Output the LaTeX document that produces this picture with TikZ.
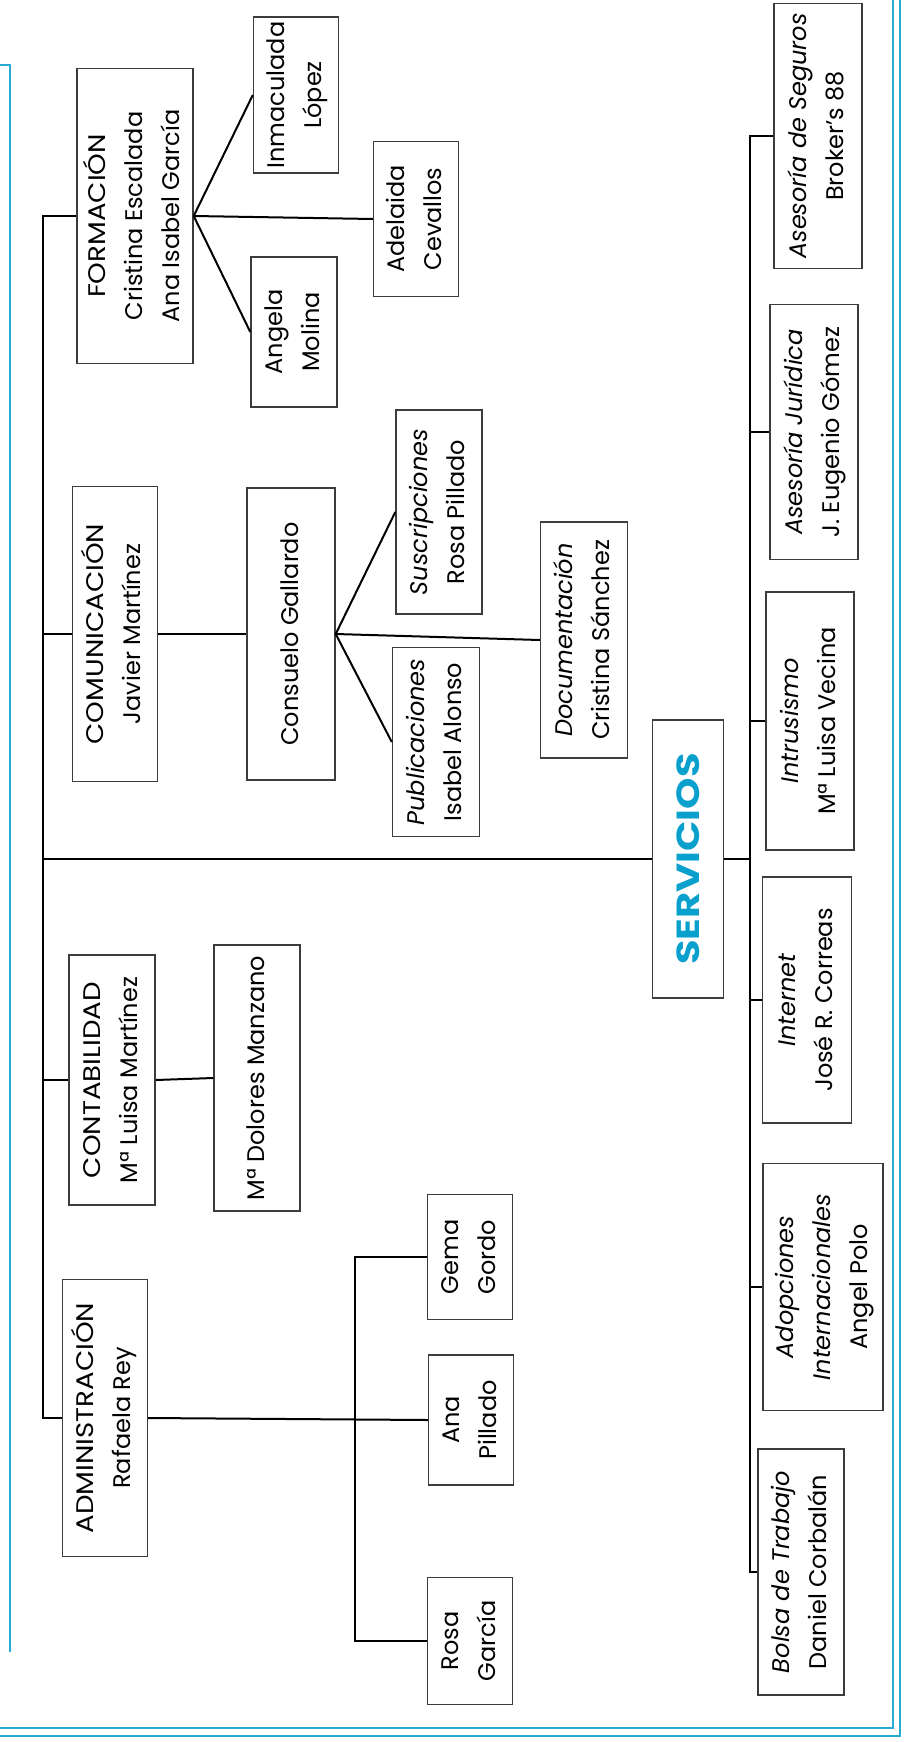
\documentclass[tikz,border=0pt]{standalone}
\usepackage{fontspec}
\setmainfont{Poppins}
\usepackage{graphicx}
\usetikzlibrary{calc}
\definecolor{frameblue}{RGB}{40, 170, 210}
\definecolor{titleblue}{RGB}{10, 160, 205}
\definecolor{boxline}{RGB}{60, 60, 60}
\newcommand{\vtext}[1]{\rotatebox{90}{\begin{tabular}{@{}c@{}}#1\end{tabular}}}
\newcommand{\broadcaps}[1]{\scalebox{1.15}[1]{#1}}
\newcommand{\chartfont}{\fontsize{24}{37}\selectfont}

\begin{document}
\begin{tikzpicture}[x=1pt, y=-1pt,
    box/.style={draw=boxline, line width=1.4pt, inner sep=0pt, font=\chartfont},
    dims/.style 2 args={minimum width=#1pt, minimum height=#2pt},
    link/.style={black, line width=2pt},
    frame/.style={frameblue, line width=2pt}
  ]
  \useasboundingbox (0,0) rectangle (905,1742);

  % page frame
  \draw[frame] (0,65) -- (10,65) -- (10,1652);
  \draw[frame] (0,1728) -- (893,1728) -- (893,0);
  \draw[frame] (0,1736) -- (900,1736) -- (900,0);

  % departments
  \node[box, dims={116}{295}] (formacion) at (135,216) {\vtext{\broadcaps{FORMACIÓN}\\Cristina Escalada\\Ana Isabel García}};
  \node[box, dims={85}{295}] (comunicacion) at (115,634) {\vtext{\broadcaps{COMUNICACIÓN}\\Javier Martínez}};
  \node[box, dims={86}{250}] (contabilidad) at (112,1080) {\vtext{\broadcaps{CONTABILIDAD}\\Mª Luisa Martínez}};
  \node[box, dims={85}{277}] (administracion) at (105,1418) {\vtext{\broadcaps{ADMINISTRACIÓN}\\Rafaela Rey}};

  % formacion
  \node[box, dims={85}{156}] (inmaculada) at (296,95) {\vtext{Inmaculada\\López}};
  \node[box, dims={85}{155}] (adelaida) at (416,219) {\vtext{Adelaida\\Cevallos}};
  \node[box, dims={86}{150}] (angela) at (294,332) {\vtext{Angela\\Molina}};

  % comunicacion
  \node[box, dims={88}{292}] (consuelo) at (291,634) {\vtext{Consuelo Gallardo}};
  \node[box, dims={86}{204}] (suscripciones) at (439,512) {\vtext{\itshape Suscripciones\\Rosa Pillado}};
  \node[box, dims={87}{189}] (publicaciones) at (436,742) {\vtext{\itshape Publicaciones\\Isabel Alonso}};
  \node[box, dims={87}{236}] (documentacion) at (584,640) {\vtext{\itshape Documentación\\Cristina Sánchez}};

  % contabilidad
  \node[box, dims={86}{266}] (dolores) at (257,1078) {\vtext{Mª Dolores Manzano}};

  % administracion
  \node[box, dims={85}{125}] (gema) at (470,1257) {\vtext{Gema\\Gordo}};
  \node[box, dims={85}{130}] (ana) at (471,1420) {\vtext{Ana\\Pillado}};
  \node[box, dims={85}{127}] (rosa) at (470,1641) {\vtext{Rosa\\García}};

  % servicios
  \node[box, dims={71}{278}, font=\fontsize{32}{36}\selectfont\bfseries, text=titleblue] (servicios) at (688,859) {\rotatebox{90}{\scalebox{1.25}[1]{SERVICIOS}}};
  \node[box, dims={88}{265}] (seguros) at (818,136) {\vtext{\itshape Asesoría de Seguros\\Broker’s 88}};
  \node[box, dims={88}{255}] (juridica) at (814,432) {\vtext{\itshape Asesoría Jurídica\\J. Eugenio Gómez}};
  \node[box, dims={88}{258}] (intrusismo) at (810,721) {\vtext{\itshape Intrusismo\\Mª Luisa Vecina}};
  \node[box, dims={89}{246}] (internet) at (807,1000) {\vtext{\itshape Internet\\José R. Correas}};
  \node[box, dims={120}{247}] (adopciones) at (823,1287) {\vtext{\itshape Adopciones\\\itshape Internacionales\\Angel Polo}};
  \node[box, dims={86}{246}] (bolsa) at (801,1572) {\vtext{\itshape Bolsa de Trabajo\\Daniel Corbalán}};

  % connectors
  \coordinate (trunk) at (43,0);
  \coordinate (spine) at (750,0);
  \coordinate (adminspine) at (355,0);

  \draw[link] (formacion.west) -- (formacion.west -| trunk) |- (administracion.west);
  \draw[link] (comunicacion.west) -- (comunicacion.west -| trunk);
  \draw[link] (contabilidad.west) -- (contabilidad.west -| trunk);
  \draw[link] (servicios.west) -- (servicios.west -| trunk);

  \foreach \kid in {inmaculada, adelaida, angela}
    \draw[link] (formacion.east) -- (\kid.west);
  \draw[link] (comunicacion.east) -- (consuelo.west);
  \foreach \kid in {suscripciones, documentacion, publicaciones}
    \draw[link] (consuelo.east) -- (\kid.west);
  \draw[link] (contabilidad.east) -- (dolores.west);

  \draw[link] (administracion.east) -- (ana.west);
  \draw[link] (gema.west) -- (gema.west -| adminspine) |- (rosa.west);

  \draw[link] (seguros.west) -- (seguros.west -| spine) |- (bolsa.west);
  \draw[link] (servicios.east) -- (servicios.east -| spine);
  \foreach \kid in {juridica, intrusismo, internet, adopciones}
    \draw[link] (\kid.west) -- (\kid.west -| spine);
\end{tikzpicture}
\end{document}
